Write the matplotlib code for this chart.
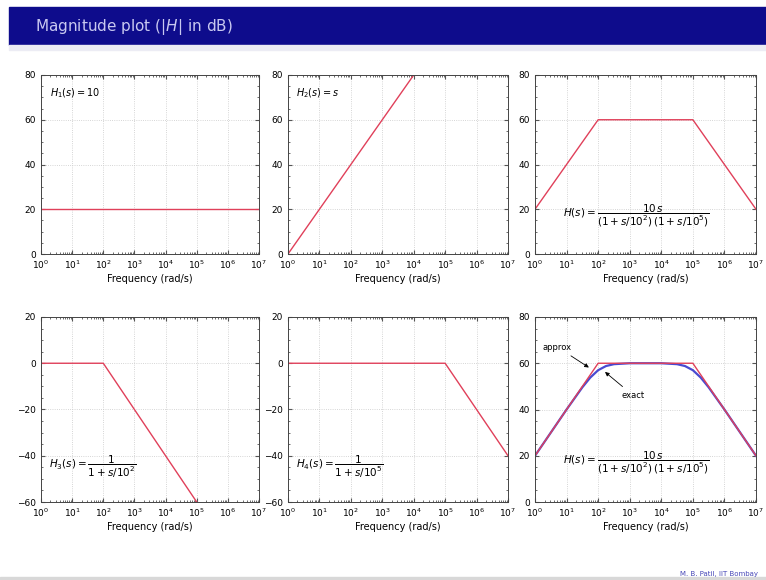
import matplotlib
matplotlib.use("Agg")
import matplotlib.pyplot as plt
from matplotlib.patches import Rectangle
from matplotlib.ticker import FixedLocator, LogLocator, NullFormatter, MultipleLocator

# asymptotic (straight-line) magnitude plots, breakpoints
h1_freq = [1e0, 1e7]
h1_mag = [20, 20]
h2_freq = [1e0, 1e4]
h2_mag = [0, 80]
h_freq = [1e0, 1e2, 1e5, 1e7]
h_mag = [20, 60, 60, 20]
h3_freq = [1e0, 1e2, 1e5]
h3_mag = [0, 0, -60]
h4_freq = [1e0, 1e5, 1e7]
h4_mag = [0, 0, -40]

# exact curve of H(s)
exact_freq = [1e0, 1e1, 10**1.5, 10**1.75, 1e2, 10**2.25, 10**2.5, 1e3,
              1e4, 10**4.5, 10**4.75, 1e5, 10**5.25, 10**5.5, 1e6, 1e7]
exact_mag = [20.0, 40.0, 49.6, 53.8, 57.0, 58.8, 59.6, 60.0,
             60.0, 59.6, 58.8, 57.0, 53.8, 49.6, 40.0, 20.0]

xtick_vals = [10**k for k in range(8)]
xtick_labels = ["$10^{%d}$" % k for k in range(8)]

red = "#e0405a"
blue = "#4a4ad0"

fig = plt.figure(figsize=(7.66, 5.80), dpi=100)
fig.patch.set_facecolor("white")

# title bar
fig.patches.append(Rectangle((9 / 766, 1 - 45 / 580), 757 / 766, 38 / 580,
                             transform=fig.transFigure, color="#0e0c8c", zorder=0))
fig.patches.append(Rectangle((9 / 766, 1 - 50 / 580), 757 / 766, 5 / 580,
                             transform=fig.transFigure, color="#ececf4", zorder=0))
fig.text(35 / 766, 1 - 27 / 580, "Magnitude plot ($|H|$ in dB)", color="#c8c8f0",
         fontsize=11, va="center", ha="left")

# footer
fig.patches.append(Rectangle((0, 0), 1, 3 / 580, transform=fig.transFigure,
                             color="#d8d8d8", zorder=0))
fig.text(758 / 766, 1 - 574 / 580, "M. B. Patil, IIT Bombay", color="#4848b8",
         fontsize=5, ha="right", va="center")

cols = [(41, 259), (288, 508), (535, 756)]
rows = [(75, 254), (317, 502)]


def make_axes(r, c, ylo, yhi):
    x0, x1 = cols[c]
    y0, y1 = rows[r]
    ax = fig.add_axes([x0 / 766, 1 - y1 / 580, (x1 - x0) / 766, (y1 - y0) / 580])
    ax.set_xscale("log")
    ax.set_xlim(1e0, 1e7)
    ax.set_ylim(ylo, yhi)
    ax.xaxis.set_major_locator(FixedLocator(xtick_vals))
    ax.set_xticklabels(xtick_labels)
    ax.xaxis.set_minor_locator(LogLocator(base=10, subs=range(2, 10), numticks=20))
    ax.xaxis.set_minor_formatter(NullFormatter())
    ax.yaxis.set_major_locator(MultipleLocator(20))
    ax.yaxis.set_minor_locator(MultipleLocator(5))
    ax.tick_params(which="both", direction="in", top=True, right=True,
                   labelsize=6.5, color="#555555")
    ax.tick_params(which="major", length=3)
    ax.tick_params(which="minor", length=1.5)
    ax.grid(True, which="major", color="#c8c8c8", linestyle=":", linewidth=0.6)
    for sp in ax.spines.values():
        sp.set_color("#444444")
        sp.set_linewidth(0.7)
    ax.set_xlabel("Frequency (rad/s)", fontsize=7, labelpad=2)
    return ax


eq_h = r"$H(s)=\dfrac{10\,s}{(1+s/10^2)\,(1+s/10^5)}$"

ax = make_axes(0, 0, 0, 80)
ax.plot(h1_freq, h1_mag, color=red, lw=1.0)
ax.text(10**0.3, 72, "$H_1(s)=10$", fontsize=7, va="center")

ax = make_axes(0, 1, 0, 80)
ax.plot(h2_freq, h2_mag, color=red, lw=1.0)
ax.text(10**0.25, 72, "$H_2(s)=s$", fontsize=7, va="center")

ax = make_axes(0, 2, 0, 80)
ax.plot(h_freq, h_mag, color=red, lw=1.0)
ax.text(10**0.9, 17, eq_h, fontsize=7.5, va="center")

ax = make_axes(1, 0, -60, 20)
ax.plot(h3_freq, h3_mag, color=red, lw=1.0)
ax.text(10**0.25, -45, r"$H_3(s)=\dfrac{1}{1+s/10^2}$", fontsize=7.5, va="center")

ax = make_axes(1, 1, -60, 20)
ax.plot(h4_freq, h4_mag, color=red, lw=1.0)
ax.text(10**0.25, -45, r"$H_4(s)=\dfrac{1}{1+s/10^5}$", fontsize=7.5, va="center")

ax = make_axes(1, 2, 0, 80)
ax.plot(exact_freq, exact_mag, color=blue, lw=1.6)
ax.plot(h_freq, h_mag, color=red, lw=1.0)
ax.text(10**0.9, 17, eq_h, fontsize=7.5, va="center")
ax.annotate("approx", xy=(10**1.78, 57.5), xytext=(10**0.25, 67), fontsize=6,
            va="center", arrowprops=dict(arrowstyle="-|>", color="black", lw=0.6,
                                         mutation_scale=6))
ax.annotate("exact", xy=(10**2.15, 57.0), xytext=(10**2.75, 46), fontsize=6,
            va="center", arrowprops=dict(arrowstyle="-|>", color="black", lw=0.6,
                                         mutation_scale=6))

fig.savefig("out.png", dpi=100)
